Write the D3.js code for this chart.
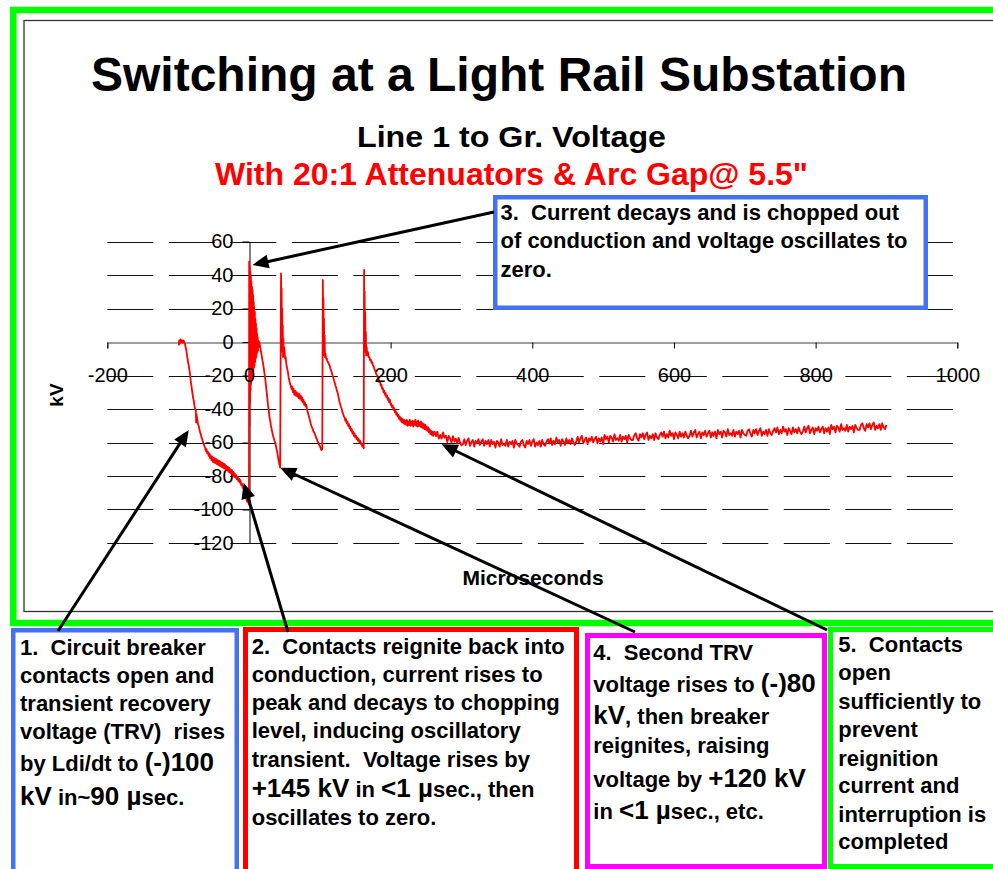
<!DOCTYPE html>
<html><head><meta charset="utf-8">
<script src="https://cdn.jsdelivr.net/npm/d3@7"></script>
<style>
body{margin:0;background:#fff}
svg{display:block}
text{font-family:Arial,"Liberation Sans",Helvetica,sans-serif}
</style>
</head><body>
<svg id="c" width="993" height="869"></svg>
<script>
// ---------------- DATA ----------------
const xTickValues = [-200, 0, 200, 400, 600, 800, 1000];
const yTickValues = [60, 40, 20, 0, -20, -40, -60, -80, -100, -120];

// [microseconds, kV]
const trvOpen = [[-99,-2],[-98.5,1],[-97.5,-1],[-96.5,1.5],[-95.5,0],[-94.5,1],[-93.5,-0.5],[-92.5,1],[-91.5,0],[-90.5,-1],
 [-89.5,-3],[-88.5,-5],[-87,-9],[-86,-12],[-85,-14],[-84,-17],[-83,-20],[-82,-24],[-81,-27],[-80,-30],[-79,-33],[-78,-35],
 [-77,-38],[-76,-40],[-75,-41],[-74.6,-48],[-74.2,-43],[-73,-46],[-72,-49],[-71,-50],[-70,-52],[-69,-54],[-68,-55],[-67,-57],
 [-66,-58],[-65,-59.5],[-64,-61],[-63,-62],[-62,-63],[-61,-65],[-60,-64],[-59,-66.5],[-58,-65.5],[-57,-68],[-56,-66.5],
 [-55,-69.5],[-54,-67.5],[-53,-70.5],[-52,-68.5],[-51,-71.5],[-50,-69],[-49,-72],[-48,-69.5],[-47,-72.5],[-46,-70],[-45,-73],
 [-44,-70.5],[-43,-73.5],[-42,-71],[-41,-74],[-40,-71.5],[-39,-74.5],[-38,-72],[-37,-75],[-36,-72.5],[-35,-75.5],[-34,-73],
 [-33,-76],[-32,-74],[-31,-76.5],[-30,-74.5],[-29,-77.5],[-28,-75],[-27,-78],[-26,-76],[-25,-78.5],[-24,-76.5],[-23,-79.5],
 [-22,-77.5],[-21,-80.5],[-20,-78.5],[-19,-81],[-18,-79.5],[-17,-82],[-16,-80.5],[-15,-83],[-14,-81.5],[-13,-84],[-12,-82.5],
 [-11,-85.5],[-10,-84.5],[-9,-87],[-8,-86.5],[-7,-89],[-6,-89.5],[-5,-92],[-4,-92.5],[-3,-95],[-2,-95.5],[-1,-94],[-0.3,-97]];

const reignition1 = [[0,-97],[0.3,48],[0.7,-50],[1.1,45],[1.5,-36],[1.9,42],[2.3,-29],[2.7,39],[3.1,-25],[3.5,36],[3.9,-23],
 [4.3,33],[4.7,-21],[5.1,31],[5.5,-19],[5.9,28],[6.3,-17],[6.7,24],[7.1,-15],[7.5,21],[7.9,-14],[8.3,18],[8.7,-12],[9.1,14],
 [9.5,-10],[9.9,11],[10.3,-9],[10.7,8],[11.1,-7],[11.5,5],[11.9,-6],[12.3,3],[12.8,-5],[13.3,1],[13.8,-3],[14.4,0],[15,-1],
 [16,-3],[17,-6],[18,-8],[19,-11],[20,-13],[21,-16],[22,-19],[23,-22],[24,-26],[25,-30],[26,-34],[27,-38],[28,-41],[29,-45],
 [30,-47],[31,-50],[32,-52],[33,-54],[34,-56],[35,-57.5],[36,-59],[37,-60],[38,-62],[39,-64],[40,-66],[41,-68.5],[42,-71],
 [43,-73],[44,-75]];

const reignition2 = [[45.3,41],[45.7,8],[46.1,32],[46.5,-2],[46.9,20],[47.3,-6],[47.7,10],[48.1,-9],[48.6,2],[49.1,-8],
 [49.7,-3],[50.4,-6],[51,-10],[51.8,-9],[52.7,-13],[54,-16],[55,-18],[56,-21],[57,-23],[58,-25],[59,-26],[60,-28],[61,-26.5],
 [62,-30],[63,-28],[64,-31.5],[65,-29],[66,-32],[67,-30],[68,-32.5],[69,-30.5],[70,-33.5],[71,-31],[72,-34],[73,-32],
 [74,-35],[75,-33],[76,-36],[77,-34.5],[78,-37.5],[79,-36],[80,-38.5],[81,-37.5],[82,-40],[83,-42],[84,-43.5],[85,-45],
 [86,-46.5],[87,-48.5],[88,-50],[89,-51],[90,-52],[91,-53.5],[92,-54],[93,-55],[94,-56],[95,-57.5],[96,-58],[97,-59.5],
 [98,-60],[99,-61.5],[100,-62],[101,-63],[102,-64.5],[103.5,-64]];

const reignition3 = [[104.3,37],[104.7,6],[105.1,26],[105.5,-4],[105.9,14],[106.3,-8],[106.8,4],[107.3,-9],[108,-7],[109,-10],
 [110,-10],[111,-12],[112,-12],[113,-13.5],[114,-14],[115,-16],[116,-17],[117,-18.5],[118,-20],[119,-21],[120,-23],[121,-24],
 [122,-26],[123,-27],[124,-29],[125,-30],[126,-32],[127,-34],[128,-36],[129,-37.5],[130,-39],[131,-40],[132,-42],[133,-43],
 [134,-44.5],[135,-45],[136,-47],[137,-46],[138,-48.5],[139,-47.5],[140,-50],[141,-49],[142,-51.5],[143,-50.5],[144,-53],
 [145,-52],[146,-54.5],[147,-53.5],[148,-56],[149,-54.5],[150,-57],[151,-56],[152,-58],[153,-57],[154,-59],[155,-58],
 [156,-60],[157,-59],[158,-61],[159,-60.5],[160,-62.5],[161,-62],[162,-63.5]];

const reignition4 = [[162.5,43],[162.9,8],[163.3,30],[163.7,-2],[164.1,18],[164.5,-6],[165,6],[165.5,-8],[166.2,-3],[167,-8],
 [168,-6],[169,-9],[170,-9],[171,-11],[172,-10.5],[173,-12.5],[174,-12],[175,-14],[176,-14.5],[177,-16],[178,-17],[179,-18],
 [180,-19.5],[181,-20],[182,-21.5],[183,-22],[184,-24],[185,-23.5],[186,-26],[187,-25.5],[188,-28],[189,-27.5],[190,-30],
 [191,-29],[192,-31.5],[193,-30.5],[194,-33],[195,-32],[196,-34.5],[197,-33.5],[198,-36],[199,-34.5],[200,-37.5],[201,-37],
 [202,-39],[203,-38],[204,-40.5],[205,-39.5],[206,-42],[207,-41],[208,-43.5],[209,-42.5],[210,-44.5],[211,-43.5],[212,-46],
 [213,-44.5],[214,-47],[215,-45.5],[216,-48],[217,-46],[218,-48.5],[219,-46.5],[220,-49],[221,-47],[222,-49.5],[223,-46.5],
 [224,-50],[225,-47.5],[226,-49.5],[227,-46.5],[228,-50],[229,-47.5],[230,-49.5],[231,-47],[232,-50.5],[233,-47.5],[234,-49.5],
 [235,-46.5],[236,-50],[237,-47.5],[238,-50.5],[239,-47],[240,-50],[241,-48],[242,-50.5],[243,-47.5],[244,-51],[245,-48.5],
 [246,-51.5],[247,-49],[248,-52],[249,-49.5],[250,-52.5],[251,-50.5],[252,-53],[253,-51],[254,-54],[255,-52],[256,-55],
 [257,-53],[258,-55.5],[259,-53.5],[260,-56]];

// tail: samples every tailStepUs microseconds from tailStartUs
const tailStartUs = 262, tailStepUs = 2;
const tailKV = [
 -53.5,-56.2,-53.5,-57.7,-55.5,-57.7,-54,-57.2,-56,-59.7,-56,-57.7,-60,-56.2,-59.5,-57.7,-60.5,-57.2,-60,-61.7,
 -61,-58,-61.5,-59,-57.5,-62,-60,-58.5,-62.5,-59,-60.5,-58,-61.5,-59.5,-58,-62,-59,-61,-58.5,-62.5,
 -58.5,-61,-59.5,-63,-59,-60,-62.5,-58,-61.5,-60.5,-62,-58.5,-62.5,-59.5,-61,-59,-63,-58.5,-60.5,-61.5,
 -62.5,-59.5,-58.5,-61.5,-63,-59,-61,-58.5,-62,-59.5,-58,-62.5,-60,-61.5,-59,-62.5,-58.5,-61,-62,-59.5,
 -58,-60.5,-57.5,-61.5,-59,-61,-57,-60,-58.5,-62,-58,-59.5,-61.5,-57.5,-60.5,-58.5,-61,-57.5,-60,-61.5,
 -59.5,-56.5,-60,-57.5,-56,-60.5,-58.5,-57,-61,-57.5,-59,-56.5,-60,-58,-56.5,-60.5,-57.5,-59.5,-57,-61,
 -55.5,-58,-56.5,-60,-56,-57,-59.5,-55,-58.5,-57.5,-59,-55.5,-59.5,-56.5,-58,-56,-60,-55.5,-57.5,-58.5,
 -58.5,-55.5,-54.5,-57.5,-59,-55,-57,-54.5,-58,-55.5,-54,-58.5,-56,-57.5,-55,-58.5,-54.5,-57,-58,-55.5,
 -54,-56.5,-53.5,-57.5,-55,-57,-53,-56,-54.5,-58,-54,-55.5,-57.5,-53.5,-56.5,-54.5,-57,-53.5,-56,-57.5,
 -56,-53,-56.5,-54,-52.5,-57,-55,-53.5,-57.5,-54,-55.5,-53,-56.5,-54.5,-53,-57,-54,-56,-53.5,-57.5,
 -52.5,-55,-53.5,-57,-53,-54,-56.5,-52,-55.5,-54.5,-56,-52.5,-56.5,-53.5,-55,-53,-57,-52.5,-54.5,-55.5,
 -56,-53,-52,-55,-56.5,-52.5,-54.5,-52,-55.5,-53,-51.5,-56,-53.5,-55,-52.5,-56,-52,-54.5,-55.5,-53,
 -51.5,-54,-51,-55,-52.5,-54.5,-50.5,-53.5,-52,-55.5,-51.5,-53,-55,-51,-54,-52,-54.5,-51,-53.5,-55,
 -53.5,-50.5,-54,-51.5,-50,-54.5,-52.5,-51,-55,-51.5,-53,-50.5,-54,-52,-50.5,-54.5,-51.5,-53.5,-51,-55,
 -49.5,-52,-50.5,-54,-50,-51,-53.5,-49,-52.5,-51.5,-53,-49.5,-53.5,-50.5,-52,-50,-54,-49.5,-51.5,-52.5,
 -52.5,-49.5,-48.5,-51.5,-53,-49,-51,-48.5,-52,-49.5,-48,-52.5,-50,-51.5,-49,-52.5,-48.5,-51,-52,-49.5];

// annotation arrow targets in data units [µs, kV]
const arrowTargets = [[5, 46], [-85, -52.5], [-7.5, -84], [44, -75], [272, -61]];

// ---------------- TEXT ----------------
const titleText = "Switching at a Light Rail Substation";
const subtitleText = "Line 1 to Gr. Voltage";
const subtitle2Text = "With 20:1 Attenuators & Arc Gap@ 5.5\"";
const xAxisTitle = "Microseconds";
const yAxisTitle = "kV";

const note3 = [[["3.  Current decays and is chopped out"]],[["of conduction and voltage oscillates to"]],[["zero."]]];
const note1 = [[["1.  Circuit breaker"]],[["contacts open and"]],[["transient recovery"]],[["voltage (TRV)  rises"]],
  [["by Ldi/dt to "],["(-)100",1]],[["kV",1],[" in~"],["90 µ",1],["sec."]]];
const note2 = [[["2.  Contacts reignite back into"]],[["conduction, current rises to"]],[["peak and decays to chopping"]],
  [["level, inducing oscillatory"]],[["transient.  Voltage rises by"]],[["+145 kV",1],[" in "],["<1 µ",1],["sec., then"]],
  [["oscillates to zero."]]];
const note4 = [[["4.  Second TRV"]],[["voltage rises to "],["(-)80",1]],[["kV",1],[", then breaker"]],[["reignites, raising"]],
  [["voltage by "],["+120 kV",1]],[["in "],["<1 µ",1],["sec., etc."]]];
const note5 = [[["5.  Contacts"]],[["open"]],[["sufficiently to"]],[["prevent"]],[["reignition"]],[["current and"]],
  [["interruption is"]],[["completed"]]];

// ---------------- DRAW ----------------
const svg = d3.select("#c");
svg.append("rect").attr("width",993).attr("height",869).attr("fill","#fff");

const x = d3.scaleLinear().domain([-200,1000]).range([107.3,957.3]);
const y = d3.scaleLinear().domain([-120,60]).range([543,241.5]);
const FONT = "Arial,'Liberation Sans',sans-serif";

// frames
svg.append("rect").attr("x",13.3).attr("y",10).attr("width",1000).attr("height",613)
  .attr("fill","none").attr("stroke","#00ff00").attr("stroke-width",6.5);
svg.append("rect").attr("x",24).attr("y",20.5).attr("width",990).attr("height",591)
  .attr("fill","none").attr("stroke","#333").attr("stroke-width",1.3);

// gridlines
svg.append("g").selectAll("line").data(yTickValues.filter(v=>v!==0)).join("line")
  .attr("x1",x(-200)).attr("x2",x(1000))
  .attr("y1",d=>Math.round(y(d))+0.5).attr("y2",d=>Math.round(y(d))+0.5)
  .attr("stroke","#111").attr("stroke-width",1).attr("stroke-dasharray","46 15.5");

// x axis (line + ticks)
const x0px = Math.round(y(0))+0.5;
const gx = svg.append("g").attr("transform",`translate(0,${x0px})`)
  .call(d3.axisBottom(x).tickValues(xTickValues).tickSize(6).tickFormat(""));
gx.select(".domain").attr("stroke","#808080").attr("stroke-width",1.5);
gx.selectAll(".tick line").attr("stroke","#000");

// y axis
const gy = svg.append("g").attr("transform",`translate(${Math.round(x(0))+0.5},0)`)
  .call(d3.axisLeft(y).tickValues(yTickValues).tickSize(7).tickPadding(9).tickFormat(d=>String(d)).tickSizeOuter(0));
gy.select(".domain").attr("stroke","#000");
gy.selectAll(".tick line").attr("stroke","#000");
gy.selectAll(".tick text").attr("font-size",20).attr("fill","#000").attr("font-family",FONT);

// waveform
const tail = tailKV.map((v,i)=>[tailStartUs + i*tailStepUs, v]);
const wave = [].concat(trvOpen, reignition1, reignition2, reignition3, reignition4, tail);
svg.append("path").datum(wave)
  .attr("d", d3.line().x(d=>x(d[0])).y(d=>y(d[1])))
  .attr("fill","none").attr("stroke","#ff0000").attr("stroke-width",1.8).attr("stroke-linejoin","round");

// x tick labels drawn above the trace
const gxl = svg.append("g").attr("transform",`translate(0,${x0px})`)
  .call(d3.axisBottom(x).tickValues(xTickValues).tickSize(6).tickPadding(19).tickFormat(d=>String(d)));
gxl.select(".domain").remove();
gxl.selectAll(".tick line").remove();
gxl.selectAll(".tick text").attr("font-size",20).attr("fill","#000").attr("font-family",FONT);

// axis titles
svg.append("text").attr("transform","translate(63,395) rotate(-90)").attr("text-anchor","middle")
  .attr("font-weight","bold").attr("font-size",19).text(yAxisTitle);
svg.append("text").attr("x",533).attr("y",585).attr("text-anchor","middle")
  .attr("font-weight","bold").attr("font-size",21).text(xAxisTitle);

// titles
svg.append("text").attr("x",499).attr("y",91).attr("text-anchor","middle")
  .attr("font-weight","bold").attr("font-size",48).text(titleText);
svg.append("text").attr("x",511.5).attr("y",147).attr("text-anchor","middle")
  .attr("font-weight","bold").attr("font-size",30).attr("textLength",309).attr("lengthAdjust","spacingAndGlyphs")
  .text(subtitleText);
svg.append("text").attr("x",511.5).attr("y",185).attr("text-anchor","middle")
  .attr("font-weight","bold").attr("font-size",31.5).attr("textLength",593).attr("lengthAdjust","spacingAndGlyphs")
  .attr("fill","#ff0000").text(subtitle2Text);

// note boxes
function box(x0,y0,x1,y1,color,sw){
  svg.append("rect").attr("x",x0+sw/2).attr("y",y0+sw/2).attr("width",x1-x0-sw).attr("height",y1-y0-sw)
    .attr("fill","#fff").attr("stroke",color).attr("stroke-width",sw);
}
function lines(data, x0, baselines, size, big){
  data.forEach((ln,i)=>{
    const t = svg.append("text").attr("x",x0).attr("y",baselines[i])
      .attr("font-weight","bold").attr("font-size",size).style("white-space","pre");
    ln.forEach(fr=>t.append("tspan").attr("font-size",fr[1]?big:size).text(fr[0]));
  });
}
box(493,195,928,310,"#4472f2",4.5);
lines(note3, 500.5, [220,248.3,276.7], 22, 26);

box(11,628,239,885,"#4472f2",4.5);
lines(note1, 20, [655,683.3,711,739.3,771,805], 22, 26);
box(243,627,579,885,"#ff0000",5);
lines(note2, 251.7, [653.5,681.7,710,738.3,766.7,796.7,825], 22, 26);
box(585,633,827,869,"#ff00ff",5);
lines(note4, 593.3, [660,691.7,724,753.3,786.7,819.3], 22, 26);
box(828,627,1010,869,"#00ff00",5);
lines(note5, 838.3, [652.3,680,709.3,736.7,765.7,793.3,821.7,849.3], 22, 26);

// arrows
const arrowTails = [[494,212],[58,631],[288,632],[635,632],[827,630]];
function arrow(x1,y1,x2,y2){
  const dx=x2-x1, dy=y2-y1, L=Math.hypot(dx,dy), ux=dx/L, uy=dy/L;
  const hl=16, hw=7;
  const bx=x2-ux*hl, by=y2-uy*hl;
  svg.append("line").attr("x1",x1).attr("y1",y1).attr("x2",bx+ux*2).attr("y2",by+uy*2)
    .attr("stroke","#000").attr("stroke-width",3);
  svg.append("path").attr("d",`M${x2},${y2}L${bx-uy*hw},${by+ux*hw}L${bx+uy*hw},${by-ux*hw}Z`).attr("fill","#000");
}
arrowTargets.forEach((t,i)=>arrow(arrowTails[i][0],arrowTails[i][1],x(t[0]),y(t[1])));
</script>
</body></html>
